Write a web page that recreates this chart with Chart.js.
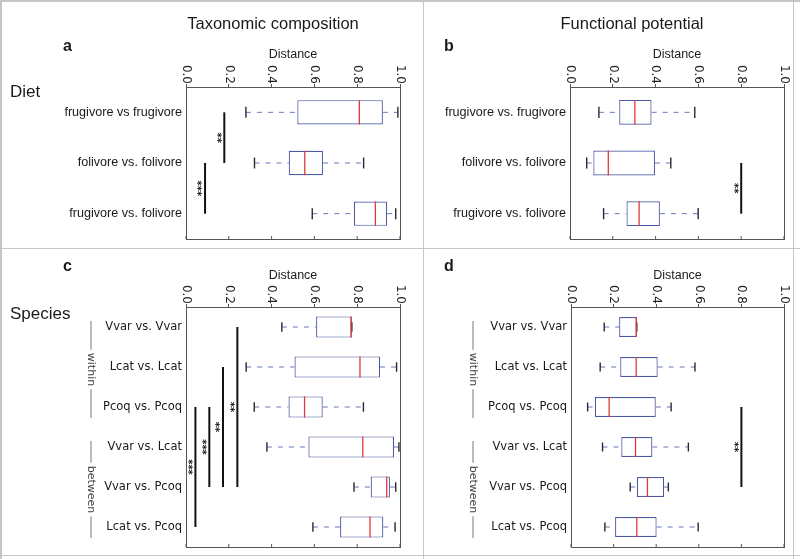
<!DOCTYPE html>
<html>
<head>
<meta charset="utf-8">
<script src="https://cdn.jsdelivr.net/npm/chart.js@4"></script>
<style>
  body { margin: 0; background: #fff; }
  #fig { position: relative; width: 800px; height: 559px; overflow: hidden; background: #fff; }
  #fig canvas { position: absolute; }
  .txt { position: absolute; white-space: nowrap; color: #1a1a1a; font-family: "Liberation Sans", Arial, sans-serif; }
  .head { font-size: 16.5px; line-height: 16.5px; transform: translateX(-50%); }
  .tag { font-size: 16px; line-height: 16px; font-weight: bold; }
  .row { font-size: 17px; line-height: 17px; }
  .rule { position: absolute; background: #c6c6c6; }
</style>
</head>
<body>
<div id="fig">
  <canvas id="panelA" width="423" height="248" style="left:0;top:0"></canvas>
  <canvas id="panelB" width="377" height="248" style="left:423px;top:0"></canvas>
  <canvas id="panelC" width="423" height="310" style="left:0;top:249px"></canvas>
  <canvas id="panelD" width="377" height="310" style="left:423px;top:249px"></canvas>

  <div class="rule" style="left:0;top:0;width:800px;height:1.5px"></div>
  <div class="rule" style="left:0;top:0;width:1.5px;height:559px"></div>
  <div class="rule" style="left:0;top:247.5px;width:800px;height:1.5px"></div>
  <div class="rule" style="left:422.5px;top:0;width:1.5px;height:559px"></div>
  <div class="rule" style="left:0;top:555px;width:800px;height:1px"></div>
  <div class="rule" style="left:793px;top:0;width:1px;height:559px"></div>

  <div class="txt head" style="left:273px;top:15px">Taxonomic composition</div>
  <div class="txt head" style="left:632px;top:15px">Functional potential</div>
  <div class="txt tag" style="left:63px;top:38px">a</div>
  <div class="txt tag" style="left:444px;top:37.5px">b</div>
  <div class="txt tag" style="left:63px;top:257.5px">c</div>
  <div class="txt tag" style="left:444px;top:257.5px">d</div>
  <div class="txt row" style="left:10px;top:83px">Diet</div>
  <div class="txt row" style="left:10px;top:305px">Species</div>
</div>

<script>
const dietLabelsTax = ["frugivore vs frugivore", "folivore vs. folivore", "frugivore vs. folivore"];
const dietLabelsFun = ["frugivore vs. frugivore", "folivore vs. folivore", "frugivore vs. folivore"];
const speciesLabels = ["Vvar vs. Vvar", "Lcat vs. Lcat", "Pcoq vs. Pcoq", "Vvar vs. Lcat", "Vvar vs. Pcoq", "Lcat vs. Pcoq"];
const distanceTicks = [0, 0.2, 0.4, 0.6, 0.8, 1.0];

// [low whisker, q1, median, q3, high whisker]
const taxDiet = [
  [0.28, 0.52, 0.81, 0.92, 0.99],
  [0.32, 0.48, 0.555, 0.64, 0.83],
  [0.59, 0.785, 0.885, 0.94, 0.98]
];
const funDiet = [
  [0.135, 0.23, 0.303, 0.381, 0.583],
  [0.078, 0.109, 0.179, 0.397, 0.471],
  [0.157, 0.264, 0.323, 0.42, 0.599]
];
const taxSpecies = [
  [0.448, 0.608, 0.771, 0.775, 0.775],
  [0.281, 0.507, 0.813, 0.907, 0.984],
  [0.319, 0.479, 0.554, 0.639, 0.829],
  [0.378, 0.572, 0.826, 0.972, 0.995],
  [0.785, 0.863, 0.938, 0.953, 0.98],
  [0.593, 0.72, 0.86, 0.922, 0.977]
];
const funSpecies = [
  [0.156, 0.226, 0.306, 0.309, 0.309],
  [0.137, 0.231, 0.306, 0.407, 0.582],
  [0.078, 0.112, 0.179, 0.398, 0.47],
  [0.148, 0.236, 0.303, 0.382, 0.551],
  [0.278, 0.309, 0.359, 0.437, 0.457],
  [0.159, 0.207, 0.309, 0.402, 0.597]
];

// significance bars: [distance, first row, last row, stars]
const taxDietSig = [[0.179, 0, 1, "**"], [0.089, 1, 2, "***"]];
const funDietSig = [[0.8, 1, 2, "**"]];
const taxSpeciesSig = [[0.24, 0, 4, "**"], [0.173, 1, 4, "**"], [0.109, 2, 4, "***"], [0.044, 2, 5, "***"]];
const funSpeciesSig = [[0.8, 2, 4, "**"]];

// row groups: [label, first row, last row]
const speciesGroups = [["within", 0, 2], ["between", 3, 5]];

const BOX = "#4b58a4";
const WHISK = "#6a76bd";
const CAP = "#2a2a2a";
const MED = "#e2383a";
const AXIS = "#555";
const INK = "#1a1a1a";

function seg(ctx, x1, y1, x2, y2) {
  ctx.beginPath();
  ctx.moveTo(x1, y1);
  ctx.lineTo(x2, y2);
  ctx.stroke();
}

const boxExtras = {
  id: "boxExtras",
  afterDatasetsDraw(chart, args, o) {
    const ctx = chart.ctx;
    const xs = chart.scales.x;
    const ys = chart.scales.y;
    const bars = chart.getDatasetMeta(0).data;

    ctx.save();
    o.stats.forEach((s, i) => {
      const yc = ys.getPixelForValue(i);
      const h = bars[i].height / 2;
      const cap = h * 0.45;
      const [lo, q1, med, q3, hi] = s.map((v) => xs.getPixelForValue(v));

      ctx.setLineDash([5, 6]);
      ctx.strokeStyle = WHISK;
      ctx.lineWidth = 1;
      if (q1 - lo > 1) seg(ctx, lo, yc, q1, yc);
      if (hi - q3 > 1) seg(ctx, q3, yc, hi, yc);

      ctx.setLineDash([]);
      ctx.strokeStyle = CAP;
      ctx.lineWidth = 1.4;
      seg(ctx, lo, yc - cap, lo, yc + cap);
      seg(ctx, hi, yc - cap, hi, yc + cap);

      ctx.strokeStyle = MED;
      ctx.lineWidth = 1.3;
      seg(ctx, med, yc - h, med, yc + h);
    });

    // significance bars
    ctx.strokeStyle = "#111";
    ctx.fillStyle = "#111";
    ctx.lineWidth = 2;
    ctx.font = "bold 10px 'DejaVu Sans'";
    o.sig.forEach(([v, a, b, stars]) => {
      const x = xs.getPixelForValue(v);
      const y1 = ys.getPixelForValue(a);
      const y2 = ys.getPixelForValue(b);
      seg(ctx, x, y1, x, y2);
      ctx.save();
      ctx.translate(x - 3, (y1 + y2) / 2);
      ctx.rotate(Math.PI / 2);
      ctx.textAlign = "center";
      ctx.textBaseline = "top";
      ctx.fillText(stars, 0, 0);
      ctx.restore();
    });
    ctx.restore();
  },
  afterDraw(chart, args, o) {
    const ctx = chart.ctx;
    const xs = chart.scales.x;
    const ys = chart.scales.y;
    const area = chart.chartArea;

    ctx.save();
    ctx.strokeStyle = AXIS;
    ctx.lineWidth = 1;
    ctx.strokeRect(Math.round(area.left) + 0.5, Math.round(area.top) + 0.5,
      Math.round(area.right - area.left), Math.round(area.bottom - area.top));

    // inner ticks on the bottom edge and rotated tick labels on top
    ctx.fillStyle = "#222";
    ctx.font = "12px 'DejaVu Sans'";
    xs.ticks.forEach((t) => {
      const x = xs.getPixelForValue(t.value);
      seg(ctx, x, area.bottom, x, area.bottom - 3);
      ctx.save();
      ctx.translate(x, area.top - 3);
      ctx.rotate(Math.PI / 2);
      ctx.textAlign = "right";
      ctx.textBaseline = "middle";
      ctx.fillText(t.value.toFixed(1), 0, 0);
      ctx.restore();
    });

    // within / between brackets
    if (o.groups) {
      ctx.font = "11px 'DejaVu Sans'";
      ctx.fillStyle = "#444";
      ctx.strokeStyle = "#777";
      ctx.lineWidth = 1;
      o.groups.forEach(([label, a, b]) => {
        const top = ys.getPixelForValue(a) - 6;
        const bottom = ys.getPixelForValue(b) + 11;
        const mid = (top + bottom) / 2;
        const half = ctx.measureText(label).width / 2 + 3;
        seg(ctx, o.groupX, top, o.groupX, mid - half);
        seg(ctx, o.groupX, mid + half, o.groupX, bottom);
        ctx.save();
        ctx.translate(o.groupX, mid);
        ctx.rotate(Math.PI / 2);
        ctx.textAlign = "center";
        ctx.textBaseline = "middle";
        ctx.fillText(label, 0, 0);
        ctx.restore();
      });
    }
    ctx.restore();
  }
};

function makePanel(id, labels, stats, sig, p) {
  new Chart(document.getElementById(id), {
    type: "bar",
    data: {
      labels: labels,
      datasets: [{
        data: stats.map((s) => [s[1], s[3]]),
        backgroundColor: "#fff",
        borderColor: BOX,
        borderWidth: 1.2,
        borderSkipped: false,
        barPercentage: p.bar,
        categoryPercentage: 1
      }]
    },
    options: {
      indexAxis: "y",
      responsive: false,
      animation: false,
      events: [],
      layout: { padding: { left: 0, top: 0, right: p.padRight, bottom: p.padBottom } },
      plugins: {
        legend: { display: false },
        tooltip: { enabled: false },
        boxExtras: { stats: stats, sig: sig, groups: p.groups, groupX: p.groupX }
      },
      scales: {
        x: {
          position: "top",
          min: 0,
          max: 1,
          afterBuildTicks: (s) => { s.ticks = distanceTicks.map((v) => ({ value: v })); },
          grid: { drawOnChartArea: false, drawTicks: true, tickLength: 3, color: AXIS },
          border: { color: AXIS },
          ticks: { display: false },
          title: {
            display: true,
            text: "Distance",
            color: INK,
            font: { family: "'Liberation Sans', Arial, sans-serif", size: 12.5 },
            padding: { top: p.titlePad, bottom: 0 }
          },
          afterFit: (s) => {
            s.height = p.top;
            s.paddingLeft = 0;
            s.paddingRight = 0;
          }
        },
        y: {
          grid: { display: false, drawTicks: false },
          border: { color: AXIS },
          ticks: { color: INK, padding: 4, font: p.labelFont },
          afterFit: (s) => {
            s.width = p.left;
            s.paddingTop = 0;
            s.paddingBottom = 0;
          }
        }
      }
    },
    plugins: [boxExtras]
  });
}

const dietFont = { family: "'Liberation Sans', Arial, sans-serif", size: 12.6 };
const speciesFont = { family: "'DejaVu Sans', sans-serif", size: 11.5 };

makePanel("panelA", dietLabelsTax, taxDiet, taxDietSig,
  { left: 186, top: 87, padRight: 23, padBottom: 9, titlePad: 47.5, bar: 0.48, labelFont: dietFont });
makePanel("panelB", dietLabelsFun, funDiet, funDietSig,
  { left: 147, top: 87, padRight: 16, padBottom: 9, titlePad: 47.5, bar: 0.49, labelFont: dietFont });
makePanel("panelC", speciesLabels, taxSpecies, taxSpeciesSig,
  { left: 186, top: 58, padRight: 23, padBottom: 12, titlePad: 19.5, bar: 0.53, labelFont: speciesFont,
    groups: speciesGroups, groupX: 91 });
makePanel("panelD", speciesLabels, funSpecies, funSpeciesSig,
  { left: 148, top: 58, padRight: 16, padBottom: 12, titlePad: 19.5, bar: 0.5, labelFont: speciesFont,
    groups: speciesGroups, groupX: 50 });
</script>
</body>
</html>
